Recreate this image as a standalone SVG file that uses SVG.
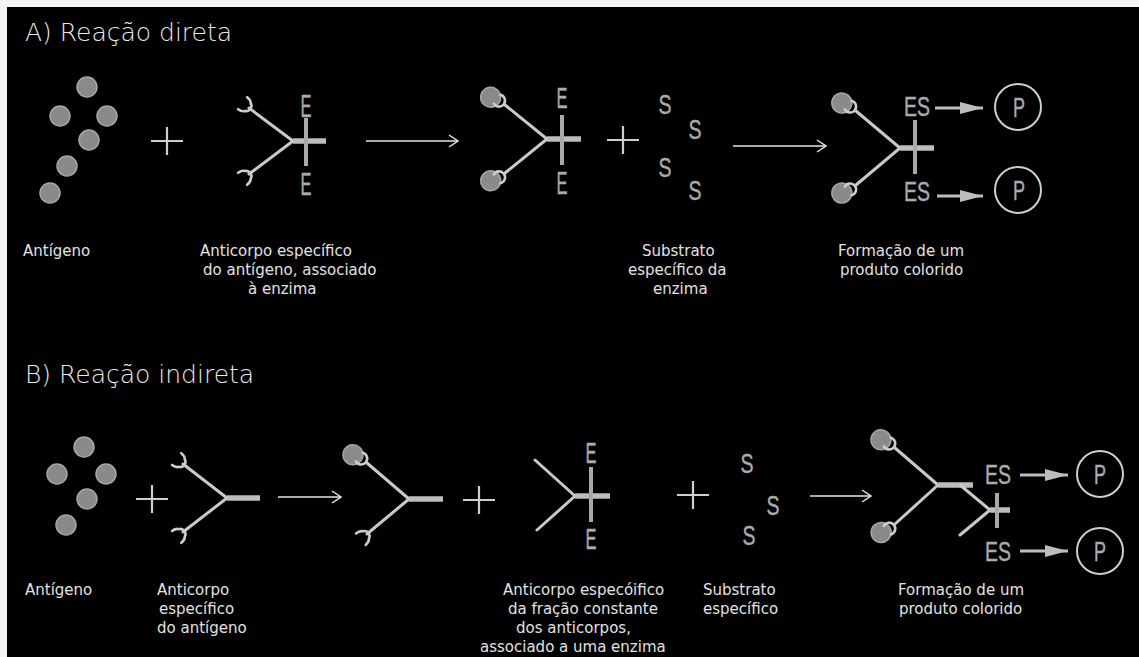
<svg xmlns="http://www.w3.org/2000/svg" xmlns:xlink="http://www.w3.org/1999/xlink" width="1139" height="657" viewBox="0 0 1139 657">
  <style>
    .title { font-family: "DejaVu Sans", Verdana, sans-serif; font-size: 25px; font-weight: 200; fill: #e8e8e8; }
    .label { font-family: "DejaVu Sans", Verdana, sans-serif; font-size: 15px; fill: #e2e2e2; }
    .glyph { font-family: "Liberation Sans", Arial, sans-serif; fill: #ababab; stroke: #ababab; stroke-width: 0.4; text-anchor: middle; }
    .arm { fill: none; stroke: #c9c9c9; stroke-width: 3; stroke-linecap: round; }
    .cup { fill: none; stroke: #cdcdcd; stroke-width: 2.6; stroke-linecap: round; }
    .stem { fill: none; stroke: #bdbdbd; stroke-width: 5.5; }
    .bar { fill: none; stroke: #a9a9a9; stroke-width: 4; }
    .ag { fill: #8a8a8a; stroke: #a6a6a6; stroke-width: 1.5; }
    .plus { fill: none; stroke: #cfcfcf; stroke-width: 2.2; }
    .thin { fill: none; stroke: #e6e6e6; stroke-width: 1.6; }
    .thick { fill: none; stroke: #bdbdbd; stroke-width: 3.2; }
    .prod { fill: none; stroke: #cfcfcf; stroke-width: 2; }
  </style>
  <defs>
    <!-- open chevron head for reaction arrows -->
    <marker id="chev" markerUnits="userSpaceOnUse" markerWidth="14" markerHeight="16" refX="11" refY="7" orient="auto">
      <path d="M2,1 L11,7 L2,13" fill="none" stroke="#e6e6e6" stroke-width="1.5"/>
    </marker>
    <!-- filled head for ES -> P arrows -->
    <marker id="tri" markerUnits="userSpaceOnUse" markerWidth="26" markerHeight="16" refX="23" refY="7" orient="auto">
      <path d="M0,1 L23,7 L0,13 Z" fill="#bdbdbd"/>
    </marker>
    <!-- free binding site at the tip of an arm; +x points away from the hinge -->
    <path id="cup" class="cup" d="M8,-7.5 Q3.5,-7.5 1.5,-4.8 A5.2,5.2 0 0,0 1.5,4.8 Q3.5,7.5 8,7.5"/>
    <!-- binding site holding an antigen -->
    <g id="bound">
      <circle class="ag" cx="16" cy="-3" r="10"/>
      <path class="cup" d="M9.5,-6 A6,6 0 1,0 10,5"/>
    </g>
    <circle id="antigen" class="ag" r="10"/>
    <path id="plusSign" class="plus" d="M-16,0 H16 M0,-14 V14"/>
  </defs>

  <!-- page frame -->
  <rect x="0" y="0" width="1139" height="657" fill="#f4f4f4"/>
  <rect x="7" y="7" width="1132" height="650" fill="#000"/>

  <text class="title" x="25" y="41">A) Reação direta</text>
  <text class="title" x="25" y="383">B) Reação indireta</text>

  <!-- ===== A) direct reaction ===== -->
  <g id="a-antigens">
    <use xlink:href="#antigen" x="87" y="87"/>
    <use xlink:href="#antigen" x="60" y="116"/>
    <use xlink:href="#antigen" x="107" y="116"/>
    <use xlink:href="#antigen" x="89" y="140"/>
    <use xlink:href="#antigen" x="67" y="166"/>
    <use xlink:href="#antigen" x="50" y="193"/>
  </g>
  <g id="a-plus1"><use xlink:href="#plusSign" x="167" y="141"/></g>

  <g id="a-antibody-enzyme" transform="translate(293,141)">
    <path class="arm" d="M0,0 L-44,-33 M0,0 L-44,33"/>
    <use xlink:href="#cup" transform="translate(-44,-33) rotate(-143)"/>
    <use xlink:href="#cup" transform="translate(-44,33) rotate(143)"/>
    <path class="stem" d="M0,0 H33"/>
    <path class="bar" d="M13,-23 V25"/>
    <text class="glyph" x="13" y="-24" font-size="31" textLength="11" lengthAdjust="spacingAndGlyphs">E</text>
    <text class="glyph" x="13" y="54" font-size="31" textLength="11" lengthAdjust="spacingAndGlyphs">E</text>
  </g>

  <g id="a-complex" transform="translate(547,139)">
    <path class="arm" d="M0,0 L-42,-34 M0,0 L-42,34"/>
    <use xlink:href="#bound" transform="translate(-42,-34) rotate(-141)"/>
    <use xlink:href="#bound" transform="translate(-42,34) rotate(141) scale(1,-1)"/>
    <path class="stem" d="M0,0 H34"/>
    <path class="bar" d="M15,-24 V26"/>
    <text class="glyph" x="15" y="-31" font-size="30" textLength="11" lengthAdjust="spacingAndGlyphs">E</text>
    <text class="glyph" x="15" y="55" font-size="31" textLength="11" lengthAdjust="spacingAndGlyphs">E</text>
  </g>
  <g id="a-plus2"><use xlink:href="#plusSign" x="623" y="140"/></g>

  <g id="a-substrate">
    <text class="glyph" x="665" y="114" font-size="27" textLength="13" lengthAdjust="spacingAndGlyphs">S</text>
    <text class="glyph" x="695" y="139" font-size="27" textLength="13" lengthAdjust="spacingAndGlyphs">S</text>
    <text class="glyph" x="665" y="177" font-size="27" textLength="13" lengthAdjust="spacingAndGlyphs">S</text>
    <text class="glyph" x="695" y="200" font-size="27" textLength="13" lengthAdjust="spacingAndGlyphs">S</text>
  </g>

  <g id="a-product-complex" transform="translate(900,148)">
    <path class="arm" d="M0,0 L-44,-37 M0,0 L-44,37"/>
    <use xlink:href="#bound" transform="translate(-44,-37) rotate(-140)"/>
    <use xlink:href="#bound" transform="translate(-44,37) rotate(140) scale(1,-1)"/>
    <path class="stem" d="M0,0 H34"/>
    <path class="bar" d="M15,-28 V26"/>
    <text class="glyph" x="17" y="-32" font-size="27" textLength="26" lengthAdjust="spacingAndGlyphs">ES</text>
    <text class="glyph" x="17" y="53" font-size="27" textLength="26" lengthAdjust="spacingAndGlyphs">ES</text>
  </g>
  <g id="a-product1">
    <circle class="prod" cx="1018" cy="107" r="23"/>
    <text class="glyph" x="1019" y="117" font-size="27" textLength="12" lengthAdjust="spacingAndGlyphs">P</text>
  </g>
  <g id="a-product2">
    <circle class="prod" cx="1018" cy="190" r="23"/>
    <text class="glyph" x="1019" y="200" font-size="27" textLength="12" lengthAdjust="spacingAndGlyphs">P</text>
  </g>

  <g id="a-labels" class="label">
    <text x="23" y="256">Antígeno</text>
    <text x="200" y="256">Anticorpo específico</text>
    <text x="203" y="275">do antígeno, associado</text>
    <text x="248" y="294">à enzima</text>
    <text x="642" y="256">Substrato</text>
    <text x="628" y="275">específico da</text>
    <text x="653" y="294">enzima</text>
    <text x="838" y="256">Formação de um</text>
    <text x="840" y="275">produto colorido</text>
  </g>

  <!-- ===== B) indirect reaction ===== -->
  <g id="b-antigens">
    <use xlink:href="#antigen" x="84" y="447"/>
    <use xlink:href="#antigen" x="57" y="474"/>
    <use xlink:href="#antigen" x="106" y="474"/>
    <use xlink:href="#antigen" x="87" y="499"/>
    <use xlink:href="#antigen" x="66" y="525"/>
  </g>
  <g id="b-plus1"><use xlink:href="#plusSign" x="152" y="499"/></g>

  <g id="b-antibody" transform="translate(227,498)">
    <path class="arm" d="M0,0 L-44,-34 M0,0 L-44,34"/>
    <use xlink:href="#cup" transform="translate(-44,-34) rotate(-142)"/>
    <use xlink:href="#cup" transform="translate(-44,34) rotate(142)"/>
    <path class="stem" d="M0,0 H33"/>
  </g>

  <g id="b-bound-antibody" transform="translate(409,499)">
    <path class="arm" d="M0,0 L-42,-36 M0,0 L-42,35"/>
    <use xlink:href="#bound" transform="translate(-42,-36) rotate(-139)"/>
    <use xlink:href="#cup" transform="translate(-42,35) rotate(140)"/>
    <path class="stem" d="M0,0 H34"/>
  </g>
  <g id="b-plus2"><use xlink:href="#plusSign" x="479" y="500"/></g>

  <g id="b-secondary-enzyme" transform="translate(575,496)">
    <path class="arm" d="M0,0 L-40,-36 M0,0 L-38,34"/>
    <path class="stem" d="M0,0 H35"/>
    <path class="bar" d="M16,-29 V26"/>
    <text class="glyph" x="16" y="-33" font-size="29" textLength="11" lengthAdjust="spacingAndGlyphs">E</text>
    <text class="glyph" x="16" y="53" font-size="29" textLength="11" lengthAdjust="spacingAndGlyphs">E</text>
  </g>
  <g id="b-plus3"><use xlink:href="#plusSign" x="693" y="495"/></g>

  <g id="b-substrate">
    <text class="glyph" x="747" y="473" font-size="28" textLength="13" lengthAdjust="spacingAndGlyphs">S</text>
    <text class="glyph" x="773" y="515" font-size="28" textLength="13" lengthAdjust="spacingAndGlyphs">S</text>
    <text class="glyph" x="749" y="545" font-size="28" textLength="13" lengthAdjust="spacingAndGlyphs">S</text>
  </g>

  <g id="b-product-complex">
    <g transform="translate(938,485)">
      <path class="arm" d="M0,0 L-43,-37 M0,0 L-43,39"/>
      <use xlink:href="#bound" transform="translate(-43,-37) rotate(-139)"/>
      <use xlink:href="#bound" transform="translate(-43,39) rotate(138) scale(1,-1)"/>
      <path class="stem" d="M0,0 H35"/>
    </g>
    <g transform="translate(990,510)">
      <path class="arm" d="M0,0 L-30,-25 M0,0 L-30,25"/>
      <path class="stem" d="M0,0 H20"/>
      <path class="bar" d="M7,-17 V18"/>
    </g>
    <text class="glyph" x="998" y="484" font-size="27" textLength="26" lengthAdjust="spacingAndGlyphs">ES</text>
    <text class="glyph" x="998" y="561" font-size="27" textLength="26" lengthAdjust="spacingAndGlyphs">ES</text>
  </g>
  <g id="b-product1">
    <circle class="prod" cx="1100" cy="474" r="23"/>
    <text class="glyph" x="1100" y="484" font-size="27" textLength="12" lengthAdjust="spacingAndGlyphs">P</text>
  </g>
  <g id="b-product2">
    <circle class="prod" cx="1100" cy="551" r="23"/>
    <text class="glyph" x="1100" y="561" font-size="27" textLength="12" lengthAdjust="spacingAndGlyphs">P</text>
  </g>

  <g id="b-labels" class="label">
    <text x="25" y="595">Antígeno</text>
    <text x="157" y="595">Anticorpo</text>
    <text x="159" y="614">específico</text>
    <text x="157" y="633">do antígeno</text>
    <text x="503" y="595">Anticorpo especóifico</text>
    <text x="508" y="614">da fração constante</text>
    <text x="516" y="633">dos anticorpos,</text>
    <text x="480" y="652">associado a uma enzima</text>
    <text x="703" y="595">Substrato</text>
    <text x="703" y="614">específico</text>
    <text x="898" y="595">Formação de um</text>
    <text x="899" y="614">produto colorido</text>
  </g>

  <!-- ===== connectors ===== -->
  <g id="connectors">
    <path class="thin" d="M366,141 H458" marker-end="url(#chev)"/>
    <path class="thin" d="M733,146 H826" marker-end="url(#chev)"/>
    <path class="thin" d="M278,497 H341" marker-end="url(#chev)"/>
    <path class="thin" d="M810,496 H871" marker-end="url(#chev)"/>
    <path class="thick" d="M935,108 H983" marker-end="url(#tri)"/>
    <path class="thick" d="M937,196 H983" marker-end="url(#tri)"/>
    <path class="thick" d="M1020,475 H1068" marker-end="url(#tri)"/>
    <path class="thick" d="M1020,551 H1068" marker-end="url(#tri)"/>
  </g>
</svg>
